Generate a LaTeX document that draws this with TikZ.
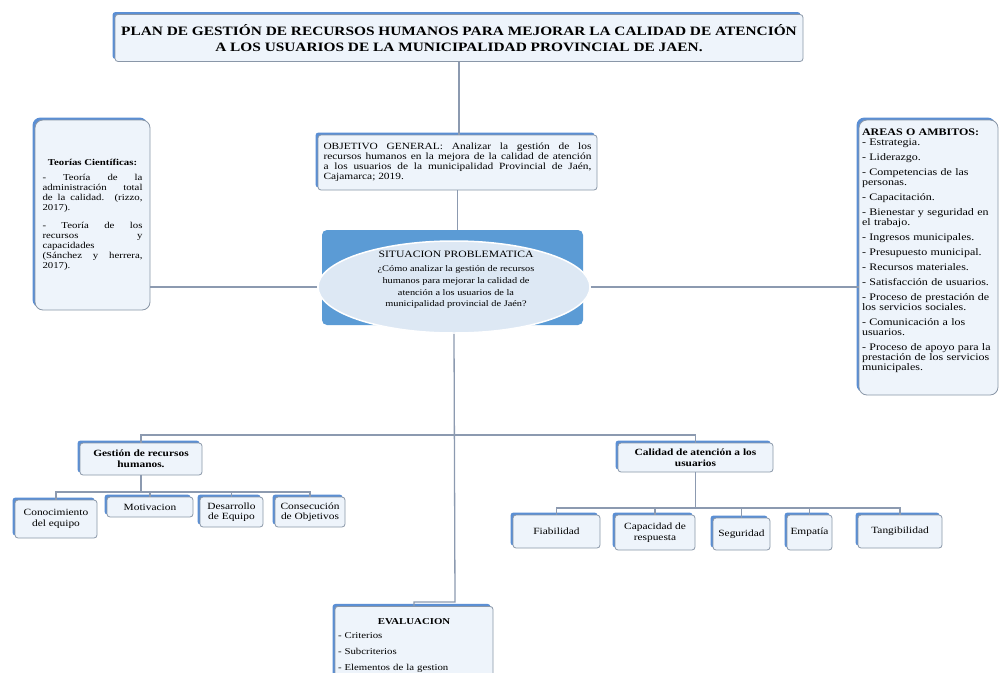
\documentclass[tikz,border=0pt]{standalone}
\usepackage{fontspec}
\setmainfont[FakeStretch=1.2]{Liberation Serif}
\usetikzlibrary{shadows,shapes.geometric,calc}
\definecolor{boxfill}{HTML}{EEF4FB}
\definecolor{boxline}{HTML}{8A97A8}
\definecolor{shadowblue}{HTML}{5B8FD4}
\definecolor{connc}{HTML}{8C9AB0}
\definecolor{sitblue}{HTML}{5B9BD5}
\definecolor{ellfill}{HTML}{DDE8F4}
\newcommand\myfs[2]{\fontsize{#1}{#2}\selectfont}
\begin{document}
\begin{tikzpicture}[x=1pt,y=-1pt,
  box/.style={draw=boxline, fill=boxfill, rounded corners=3pt, line width=0.8pt, inner sep=3pt,
    general shadow={fill=shadowblue, shadow xshift=-2.5pt, shadow yshift=2.5pt}},
  conn/.style={draw=connc, line width=1.3pt},
  leaf/.style={box, align=center, font=\myfs{9.5}{10.5}}]
\useasboundingbox (0,0) rectangle (1003,672);
\fill[white] (0,0) rectangle (1003,672);

% title
\node[box, minimum width=688, minimum height=47, align=center, font=\bfseries\myfs{12.8}{16}] (title) at (459,38)
 {PLAN DE GESTIÓN DE RECURSOS HUMANOS PARA MEJORAR LA CALIDAD DE ATENCIÓN\\A LOS USUARIOS DE LA MUNICIPALIDAD PROVINCIAL DE JAEN.};

% teorias
\node[box, rounded corners=8pt, minimum width=115, minimum height=190, text width=100, align=justify, font=\myfs{9}{10}] (teo) at (92.5,215)
 {{\centering\bfseries Teorías Científicas:\par}\vspace{5pt}
  - Teoría de la\linebreak administración total\linebreak de la calidad. (rizzo,\linebreak 2017).\par\vspace{8pt}
  - Teoría de los\linebreak recursos y\linebreak capacidades\linebreak (Sánchez y herrera,\linebreak 2017).};

% objetivo
\node[box, minimum width=279, minimum height=55, text width=268, align=justify, font=\myfs{9.5}{10}] (obj) at (457.5,162.5)
 {OBJETIVO GENERAL: Analizar la gestión de los\linebreak recursos humanos en la mejora de la calidad de atención\linebreak a los usuarios de la municipalidad Provincial de Jaén,\linebreak Cajamarca; 2019.};

% situacion
\node[fill=sitblue, rounded corners=5pt, minimum width=261, minimum height=95] (sitbox) at (452.5,277.5) {};
\node[ellipse, fill=ellfill, draw=white, line width=1.5pt, minimum width=272, minimum height=92, inner sep=0pt] (ell) at (454,287) {};
\node[align=center, font=\myfs{8.6}{11.7}] (sittxt) at (456,280)
 {{\myfs{9.7}{12}SITUACION PROBLEMATICA}\\[2pt]¿Cómo analizar la gestión de recursos\\humanos para mejorar la calidad de\\atención a los usuarios de la\\municipalidad provincial de Jaén?};

% areas
\node[box, rounded corners=8pt, minimum width=137, minimum height=275, text width=133, align=left, font=\myfs{10}{10}] (areas) at (928.5,257.5)
 {\setlength\parskip{5pt}{\bfseries AREAS O AMBITOS:}\\- Estrategia.\par
  - Liderazgo.\par
  - Competencias de las\\personas.\par
  - Capacitación.\par
  - Bienestar y seguridad en\\el trabajo.\par
  - Ingresos municipales.\par
  - Presupuesto municipal.\par
  - Recursos materiales.\par
  - Satisfacción de usuarios.\par
  - Proceso de prestación de\\los servicios sociales.\par
  - Comunicación a los\\usuarios.\par
  - Proceso de apoyo para la\\prestación de los servicios\\municipales.\par\leavevmode};

% gestion
\node[box, minimum width=122, minimum height=32, align=center, font=\bfseries\myfs{9.5}{11}] (gest) at (141,459) {Gestión de recursos\\humanos.};
\node[leaf, minimum width=82, minimum height=38] (c1) at (56,519) {Conocimiento\\del equipo};
\node[leaf, minimum width=86, minimum height=20] (c2) at (150,507) {Motivacion};
\node[leaf, minimum width=63, minimum height=30] (c3) at (231.5,512) {Desarrollo\\de Equipo};
\node[leaf, minimum width=70, minimum height=30] (c4) at (310,512) {Consecución\\de Objetivos};

% calidad
\node[box, minimum width=155, minimum height=29, align=center, font=\bfseries\myfs{9.5}{11}] (cal) at (695.5,457.5) {Calidad de atención a los\\usuarios};
\node[leaf, minimum width=87, minimum height=33] (k1) at (556.5,531.5) {Fiabilidad};
\node[leaf, minimum width=80, minimum height=35] (k2) at (655,532.5) {Capacidad de\\respuesta};
\node[leaf, minimum width=57, minimum height=32] (k3) at (741.5,534) {Seguridad};
\node[leaf, minimum width=45, minimum height=35] (k4) at (809.5,532.5) {Empatía};
\node[leaf, minimum width=84, minimum height=33] (k5) at (900,531.5) {Tangibilidad};

% evaluacion
\node[box, anchor=north, text width=152, align=left, inner ysep=12pt, font=\myfs{9}{16}] (eval) at (414,606)
 {{\centering\bfseries EVALUACION\par}\vspace{-2pt}- Criterios\\- Subcriterios\\- Elementos de la gestion\\\mbox{}};

% connectors
\coordinate (hl) at (455,435);
\coordinate (ej) at (455,602);
\coordinate (gj) at (141,492);
\coordinate (kj) at (693,508);
\draw[conn] (title.south) -- (title.south |- obj.north);
\draw[conn] (obj.south) -- (obj.south |- sitbox.north);
\draw[conn] (teo.east |- ell.west) -- (ell.west);
\draw[conn] (ell.east) -- (areas.west |- ell.east);
\draw[conn] (ell.south) -- (ej) -| (eval.north);
\draw[conn] (gest.north) |- (hl) -| (cal.north);
\draw[conn] (gest.south) -- (gj);
\draw[conn] (c1.north) |- (gj) -| (c4.north);
\draw[conn] (c2.north) -- (c2.north |- gj);
\draw[conn] (c3.north) -- (c3.north |- gj);
\draw[conn] (cal.south) -- (cal.south |- kj);
\draw[conn] (k1.north) |- (kj) -| (k5.north);
\draw[conn] (k2.north) -- (k2.north |- kj);
\draw[conn] (k3.north) -- (k3.north |- kj);
\draw[conn] (k4.north) -- (k4.north |- kj);
\end{tikzpicture}
\end{document}
